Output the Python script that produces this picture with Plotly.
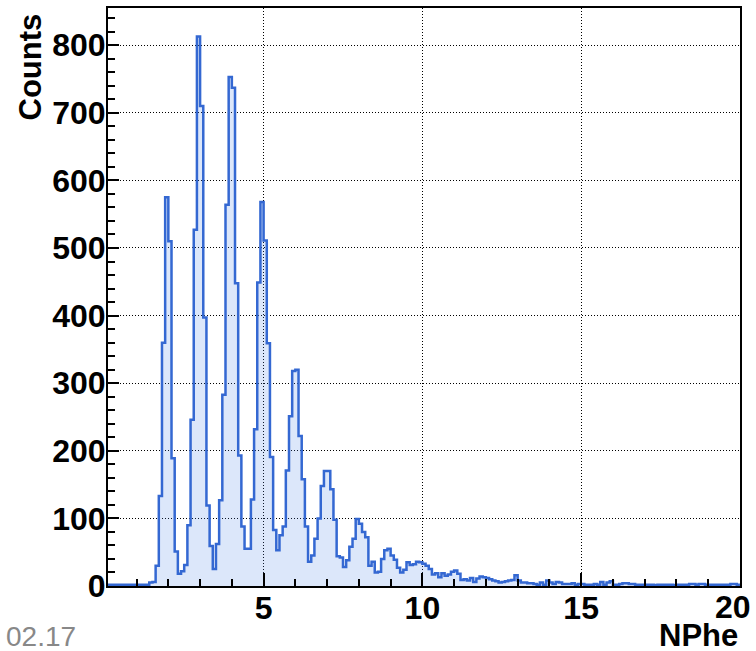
import numpy as np
import plotly.graph_objects as go

# Histogram definition (NPhe), bin width 0.1 starting at 0.1
bin_start = 0.1
bin_width = 0.1
x_max = 20.0
y_max = 855
x_tick_vals = [5, 10, 15, 20]
x_tick_text = ["5", "10", "15", ""]   # last label ("20") drawn pulled in from the edge, as ROOT does
last_tick_label = "20"
counts = [
    2, 2, 2, 2, 2, 2, 2, 2, 2, 2,           # 0.1 - 1.0
    2, 2, 2, 5, 6, 30, 133, 360, 575, 510,  # 1.1 - 2.0
    189, 51, 18, 22, 31, 90, 246, 527, 813, 710,   # 2.1 - 3.0
    397, 119, 59, 25, 62, 127, 283, 564, 753, 737,  # 3.1 - 4.0
    448, 193, 88, 55, 55, 128, 232, 449, 568, 511,  # 4.1 - 5.0
    359, 191, 83, 53, 75, 88, 171, 251, 318, 320,   # 5.1 - 6.0
    222, 158, 88, 36, 45, 70, 100, 148, 170, 170,   # 6.1 - 7.0
    143, 98, 44, 42, 28, 38, 58, 70, 99, 92,        # 7.1 - 8.0
    80, 72, 30, 36, 20, 21, 40, 53, 55, 45,         # 8.1 - 9.0
    39, 27, 20, 24, 35, 31, 32, 36, 35, 33,         # 9.1 - 10.0
    30, 25, 17, 19, 13, 19, 15, 17, 21, 23,         # 10.1 - 11.0
    18, 9, 10, 8, 12, 6, 11, 14, 13, 12,            # 11.1 - 12.0
    10, 8, 7, 5, 6, 7, 8, 9, 16, 8,                 # 12.1 - 13.0
    5, 5, 4, 4, 3, 2, 5, 2, 8, 5,                   # 13.1 - 14.0
    3, 6, 5, 3, 3, 3, 4, 2, 3, 3,                   # 14.1 - 15.0
    2, 2, 2, 3, 2, 6, 2, 5, 7, 2,                   # 15.1 - 16.0
    2, 3, 4, 4, 3, 3, 2, 2, 2, 2,                   # 16.1 - 17.0
    2, 2, 1, 2, 2, 2, 2, 2, 1, 2,                   # 17.1 - 18.0
    2, 2, 2, 3, 3, 2, 3, 3, 2, 2,                   # 18.1 - 19.0
    2, 2, 2, 2, 2, 2, 3, 3, 2,                      # 19.1 - 19.9
]

x_label = "NPhe"
y_label = "Counts"
corner_text = "02.17"

edges = np.round(bin_start + bin_width * np.arange(len(counts) + 1), 6)
xs = edges
ys = list(counts) + [counts[-1]]

W, H = 756, 651
L, R, T, B = 108, 16, 8, 65
pw, ph = W - L - R, H - T - B

line_col = "#3468d2"

fig = go.Figure()
fig.add_trace(go.Scatter(
    x=xs, y=ys, mode="lines", line=dict(color=line_col, width=2.5, shape="hv"),
    fill="tozeroy", fillcolor="rgba(70,130,230,0.19)", hoverinfo="skip",
))

font_t = dict(family="Liberation Sans, Arial, sans-serif", size=32, color="black", weight="bold")
font_b = dict(family="Liberation Sans, Arial, sans-serif", size=31, color="black", weight="bold")

fig.update_layout(
    width=W, height=H,
    margin=dict(l=L, r=R, t=T, b=B, autoexpand=False),
    paper_bgcolor="white", plot_bgcolor="white",
    showlegend=False,
    xaxis=dict(
        range=[bin_start, x_max + 0.002], tickmode="array", tickvals=x_tick_vals, ticktext=x_tick_text,
        ticks="inside", ticklen=13, tickwidth=1.5, tickcolor="black",
        minor=dict(dtick=1, tick0=0, ticks="inside", ticklen=7, tickwidth=1.5, tickcolor="black", showgrid=False),
        showline=True, linecolor="black", linewidth=2, mirror=True,
        showgrid=True, gridcolor="black", gridwidth=1, griddash="1px,2px",
        zeroline=False, tickfont=font_t, ticklabelstandoff=-7, ticklabeloverflow="allow",
        automargin=False,
    ),
    yaxis=dict(
        range=[0, y_max], tick0=0, dtick=100,
        ticks="inside", ticklen=11, tickwidth=1.5, tickcolor="black",
        minor=dict(dtick=20, tick0=0, ticks="inside", ticklen=7, tickwidth=1.5, tickcolor="black", showgrid=False),
        showline=True, linecolor="black", linewidth=2, mirror=True,
        showgrid=True, gridcolor="black", gridwidth=1, griddash="1px,2px",
        zeroline=False, tickfont=font_t, ticklabelstandoff=-6, automargin=False,
    ),
)

def px_x(p):
    return (p - L) / pw

def px_y(p):
    return (H - B - p) / ph

fig.add_annotation(text=last_tick_label, xref="paper", yref="paper", x=px_x(753), y=px_y(607),
                   xanchor="right", yanchor="middle", showarrow=False, font=font_t)
fig.add_annotation(text=y_label, xref="paper", yref="paper", x=px_x(30), y=px_y(12),
                   xanchor="center", yanchor="top", textangle=-90, showarrow=False, font=font_b)
fig.add_annotation(text=x_label, xref="paper", yref="paper", x=px_x(740), y=px_y(635),
                   xanchor="right", yanchor="middle", showarrow=False, font=font_b)
fig.add_annotation(text=corner_text, xref="paper", yref="paper", x=px_x(4), y=px_y(636),
                   xanchor="left", yanchor="middle", showarrow=False,
                   font=dict(family="Liberation Sans, Arial, sans-serif", size=28, color="#888888"))

fig.write_html("out.html", config={"displayModeBar": False},
               post_script="document.body.style.margin='0';document.body.style.overflow='hidden';")
